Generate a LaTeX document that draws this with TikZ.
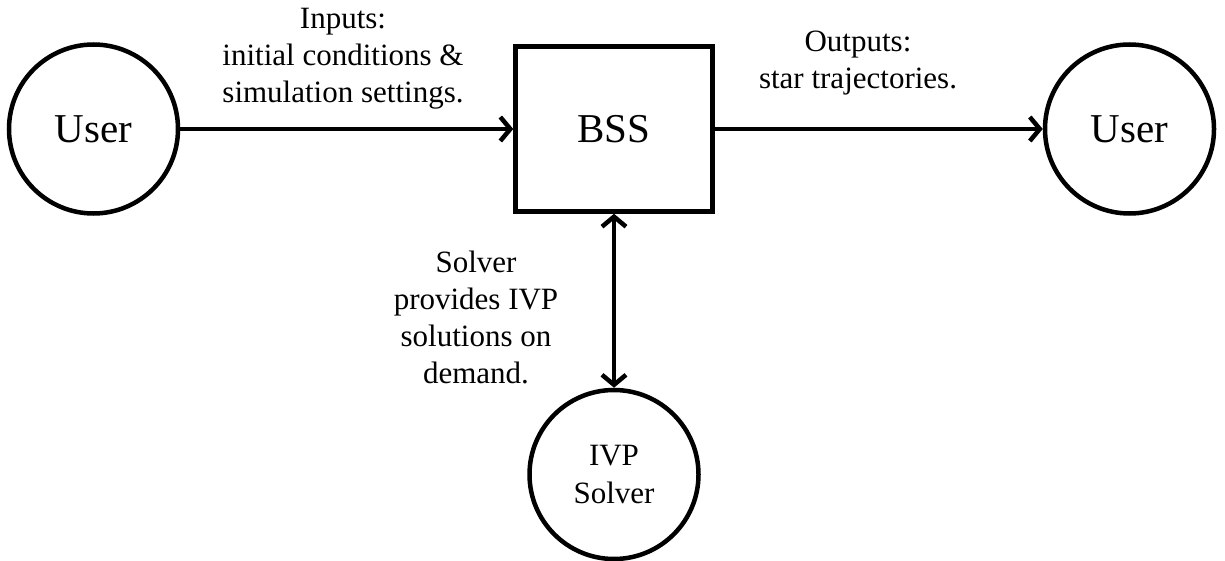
\documentclass[tikz,border=0pt]{standalone}
\usepackage{fontspec}
\setmainfont{Liberation Serif}
\usetikzlibrary{positioning, arrows.meta}

\begin{document}
\begin{tikzpicture}[
  x=1pt, y=-1pt,
  % Actor Nodes (Circles)
  actor/.style={circle, draw, line width=4.5pt, minimum size=169pt, inner sep=0pt, font=\fontsize{41}{49}\selectfont},
  solver/.style={circle, draw, line width=4.5pt, minimum size=169pt, inner sep=0pt, align=center, font=\fontsize{31}{38}\selectfont},
  % System Node (Box)
  system/.style={rectangle, draw, line width=4.5pt, minimum width=197pt, minimum height=165pt, font=\fontsize{41}{49}\selectfont},
  % Edge Labels and Wiring
  note/.style={align=center, font=\fontsize{31}{37}\selectfont},
  link/.style={line width=4.5pt, -{Straight Barb[length=10pt, width=24pt]}},
  twoway/.style={line width=4.5pt, {Straight Barb[length=10pt, width=24pt]}-{Straight Barb[length=10pt, width=24pt]}}
  ]
  \useasboundingbox (0,0) rectangle (1225,561);

  % --- Main Nodes ---
  \node[system] (BSS) at (614,129) {BSS};
  \node[actor, left=333pt of BSS] (UIn) {User};
  \node[actor, right=328pt of BSS] (UOut) {User};
  \node[solver, below=174pt of BSS] (IVP) {IVP\\Solver};

  % --- Wiring ---
  \draw[link] (UIn) -- (BSS);
  \draw[link] (BSS) -- (UOut);
  \draw[twoway] (BSS) -- (IVP);

  % --- Labels ---
  \node[note] (LIn) at (343,59) {Inputs:\\initial conditions \&\\simulation settings.};
  \node[note] (LOut) at (858,63) {Outputs:\\star trajectories.};
  \node[note] (LSolve) at (476,317) {Solver\\provides IVP\\solutions on\\demand.};

\end{tikzpicture}
\end{document}
